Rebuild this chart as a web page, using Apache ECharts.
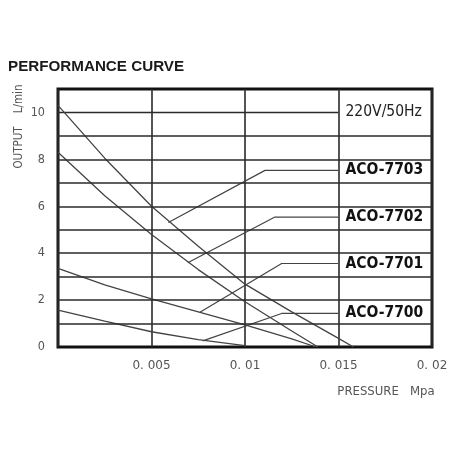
<!DOCTYPE html>
<html><head><meta charset="utf-8">
<script src="https://cdn.jsdelivr.net/npm/echarts@6/dist/echarts.min.js"></script>
<style>html,body{margin:0;padding:0;background:#fff}#c{width:452px;height:452px}</style>
</head><body><div id="c"></div>
<script>
// ---- data ----
const pressureTickLabels = ['', '0. 005', '0. 01', '0. 015', '0. 02'];
const outputTickLabels = ['0', '', '2', '', '4', '', '6', '', '8', '', '10', ''];
const gridRows = [1, 2, 3, 4, 5, 6, 7, 8, 9];
const supplyRow = [[0, 10], [0.015, 10]];
const supplyLabel = '220V/50Hz';
const modelNames = ['ACO-7703', 'ACO-7702', 'ACO-7701', 'ACO-7700'];
const aco7703 = [[0, 10.3], [0.0025, 8.05], [0.005, 6.0], [0.0075, 4.3], [0.01, 2.68], [0.0125, 1.5], [0.015, 0.37], [0.0158, 0]];
const aco7702 = [[0, 8.3], [0.0025, 6.45], [0.005, 4.8], [0.0075, 3.3], [0.01, 1.93], [0.0125, 0.68], [0.0139, 0]];
const aco7701 = [[0, 3.35], [0.0025, 2.65], [0.005, 2.05], [0.0075, 1.5], [0.01, 0.94], [0.0125, 0.35], [0.0138, 0]];
const aco7700 = [[0, 1.57], [0.0025, 1.1], [0.005, 0.65], [0.0075, 0.31], [0.01, 0.06]];
const leader7703 = [[0.0059, 5.31], [0.01107, 7.53], [0.015, 7.53]];
const leader7702 = [[0.00694, 3.59], [0.0116, 5.54], [0.015, 5.54]];
const leader7701 = [[0.00759, 1.48], [0.01196, 3.56], [0.015, 3.56]];
const leader7700 = [[0.00774, 0.26], [0.01196, 1.43], [0.015, 1.43]];

const NARROW = "'DejaVu Sans Condensed','Liberation Sans',sans-serif";
const curves = [aco7703, aco7702, aco7701, aco7700];
const leaders = [leader7703, leader7702, leader7701, leader7700];

const series = [];
series.push({
  type: 'line', silent: true, symbol: 'none', data: [],
  markLine: {
    silent: true, symbol: 'none', label: { show: false },
    lineStyle: { color: '#2a2a2a', width: 1.6, type: 'solid' },
    data: gridRows.map(v => ({ yAxis: v }))
  }
});
series.push({
  type: 'line', name: supplyLabel, symbol: 'none', silent: true, data: supplyRow,
  lineStyle: { color: '#2a2a2a', width: 1.6 },
  endLabel: { show: true, formatter: supplyLabel, distance: 7, color: '#222',
    fontFamily: NARROW, fontSize: 15.5, fontWeight: 'normal' }
});
curves.forEach((c, i) => {
  series.push({ type: 'line', name: modelNames[i] + ' curve', symbol: 'none', silent: true,
    smooth: false, data: c, lineStyle: { color: '#444', width: 1.3 } });
});
leaders.forEach((l, i) => {
  series.push({ type: 'line', name: modelNames[i], symbol: 'none', silent: true, data: l,
    lineStyle: { color: '#444', width: 1.2 },
    endLabel: { show: true, formatter: modelNames[i], distance: 7, color: '#111',
      fontFamily: NARROW, fontSize: 15.5, fontWeight: 'bold' } });
});

const chart = echarts.init(document.getElementById('c'), null, { renderer: 'canvas' });
chart.setOption({
  animation: false,
  backgroundColor: '#fff',
  title: { text: 'PERFORMANCE CURVE', left: 8, top: 59, padding: 0,
    textStyle: { fontFamily: "'Liberation Sans',Arial,sans-serif", fontSize: 15.2, fontWeight: 'bold', color: '#1a1a1a' } },
  grid: { left: 58, right: 20, top: 89, bottom: 105, show: true, borderColor: '#111', borderWidth: 3 },
  xAxis: {
    type: 'value', min: 0, max: 0.02, interval: 0.005,
    axisLine: { show: false }, axisTick: { show: false },
    splitLine: { show: true, lineStyle: { color: '#2a2a2a', width: 1.6 } },
    axisLabel: { margin: 13, color: '#555', fontFamily: "'DejaVu Sans',sans-serif", fontSize: 12,
      formatter: v => pressureTickLabels[Math.round(v / 0.005)] }
  },
  yAxis: {
    type: 'value', min: 0, max: 11, interval: 1,
    axisLine: { show: false }, axisTick: { show: false },
    splitLine: { show: false },
    axisLabel: { margin: 13, color: '#555', fontFamily: NARROW, fontSize: 12.5,
      formatter: v => outputTickLabels[Math.round(v)] }
  },
  graphic: [
    { type: 'text', x: 19.5, y: 126.5, rotation: Math.PI / 2,
      style: { text: 'OUTPUT    L/min', fill: '#555', font: "11.5px " + NARROW, align: 'center', verticalAlign: 'middle' } },
    { type: 'text', x: 386, y: 392,
      style: { text: 'PRESSURE   Mpa', fill: '#555', font: "13px " + NARROW, align: 'center', verticalAlign: 'middle' } }
  ],
  series: series
});
</script></body></html>
